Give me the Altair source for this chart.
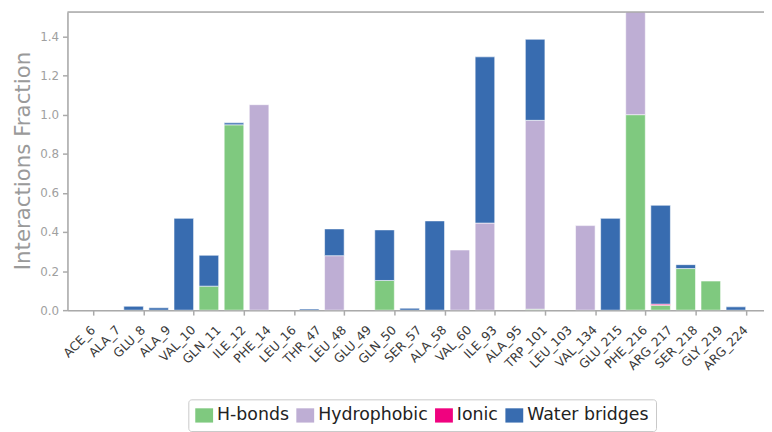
import altair as alt
import pandas as pd

residues = ["ACE_6", "ALA_7", "GLU_8", "ALA_9", "VAL_10", "GLN_11", "ILE_12", "PHE_14",
            "LEU_16", "THR_47", "LEU_48", "GLU_49", "GLN_50", "SER_57", "ALA_58", "VAL_60",
            "ILE_93", "ALA_95", "TRP_101", "LEU_103", "VAL_134", "GLU_215", "PHE_216",
            "ARG_217", "SER_218", "GLY_219", "ARG_224"]

hbonds = [0, 0, 0, 0, 0, 0.123, 0.949, 0, 0, 0, 0, 0, 0.152, 0, 0, 0,
          0, 0, 0.005, 0, 0, 0, 1.001, 0.025, 0.213, 0.149, 0]
hydrophobic = [0, 0, 0, 0, 0, 0, 0, 1.052, 0, 0, 0.279, 0, 0, 0, 0, 0.308,
               0.446, 0, 0.967, 0, 0.433, 0, 0.56, 0, 0, 0, 0]
ionic = [0, 0, 0, 0, 0, 0, 0, 0, 0, 0, 0, 0, 0, 0, 0, 0,
         0, 0, 0, 0, 0, 0, 0, 0.006, 0, 0, 0]
water = [0, 0, 0.02, 0.012, 0.47, 0.158, 0.01, 0, 0, 0.006, 0.137, 0, 0.259, 0.01, 0.457, 0,
         0.851, 0, 0.415, 0, 0, 0.47, 0, 0.506, 0.02, 0, 0.017]

types = ["H-bonds", "Hydrophobic", "Ionic", "Water bridges"]
colors = ["#7fc97f", "#beaed4", "#f0027f", "#386cb0"]
series = [hbonds, hydrophobic, ionic, water]

rows = []
for k, (t, vals) in enumerate(zip(types, series)):
    for i, v in enumerate(vals):
        rows.append({"idx": i, "res": residues[i], "type": t, "k": k, "v": v})
df = pd.DataFrame(rows)
lab_df = pd.DataFrame({"idx": list(range(len(residues))), "res": residues})

W, H = 703, 301
xscale = alt.Scale(domain=[-1.026, 26.73], nice=False, zero=False)

bars = alt.Chart(df).transform_stack(
    stack="v", groupby=["idx"], as_=["y0", "y1"], sort=[alt.SortField("k", order="ascending")]
).transform_filter("datum.v > 0").transform_calculate(
    x0="datum.idx - 0.78", x1="datum.idx"
).mark_bar(clip=True, stroke="white", strokeWidth=0.7, strokeOpacity=0.8).encode(
    x=alt.X("x0:Q", scale=xscale,
            axis=alt.Axis(values=list(range(len(residues))), labels=False,
                          title=None, grid=False,
                          domainColor="#aaaaaa", domainWidth=1.5, tickColor="#aaaaaa",
                          tickWidth=1.5, tickSize=5)),
    x2="x1:Q",
    y=alt.Y("y0:Q",
            scale=alt.Scale(domain=[0, 1.527], nice=False),
            axis=alt.Axis(values=[0, 0.2, 0.4, 0.6, 0.8, 1.0, 1.2, 1.4], format=".1f",
                          title="Interactions Fraction", titleFontSize=21.5,
                          titleFont="DejaVu Sans", titleFontWeight="normal",
                          titleColor="#9a9a9a", titleAngle=-90, titleX=-38, titleY=150,
                          titleBaseline="alphabetic", titleAlign="center",
                          labelFontSize=12, labelColor="#a0a0a0", labelFont="DejaVu Sans",
                          labelPadding=4, grid=False, domainColor="#aaaaaa", domainWidth=1.5,
                          tickColor="#aaaaaa", tickWidth=1.5, tickSize=5)),
    y2="y1:Q",
    color=alt.Color("type:N", scale=alt.Scale(domain=types, range=colors),
                    legend=alt.Legend(title=None, orient="none", legendX=122, legendY=391,
                                      direction="horizontal",
                                      symbolType="M-1,-0.8H1V0.8H-1Z", symbolSize=324,
                                      symbolStrokeWidth=0, labelFontSize=17.5,
                                      labelFont="DejaVu Sans", labelColor="#222222",
                                      labelOffset=4, columnPadding=7, padding=7,
                                      strokeColor="#c8c8c8", cornerRadius=3,
                                      fillColor="white")),
)

labels = alt.Chart(lab_df).mark_text(
    angle=315, align="right", baseline="middle", font="DejaVu Sans", fontSize=12.5,
    color="#3a3a3a", dx=0, clip=False
).encode(
    x=alt.X("idx:Q", scale=xscale),
    y=alt.value(H + 18),
    text="res:N",
)

top_line = alt.Chart(alt.Data(values=[{"a": 1}])).mark_rule(
    color="#aaaaaa", strokeWidth=1.5
).encode(x=alt.value(0), x2=alt.value(W), y=alt.value(0))

chart = alt.layer(bars, labels, top_line).properties(
    width=W, height=H,
    padding={"left": 60, "top": 2, "right": 0, "bottom": 121},
    autosize=alt.AutoSizeParams(type="none"),
).configure_view(stroke=None).configure(background="white")

chart.save("out.html", embed_options={"renderer": "svg", "actions": False})
